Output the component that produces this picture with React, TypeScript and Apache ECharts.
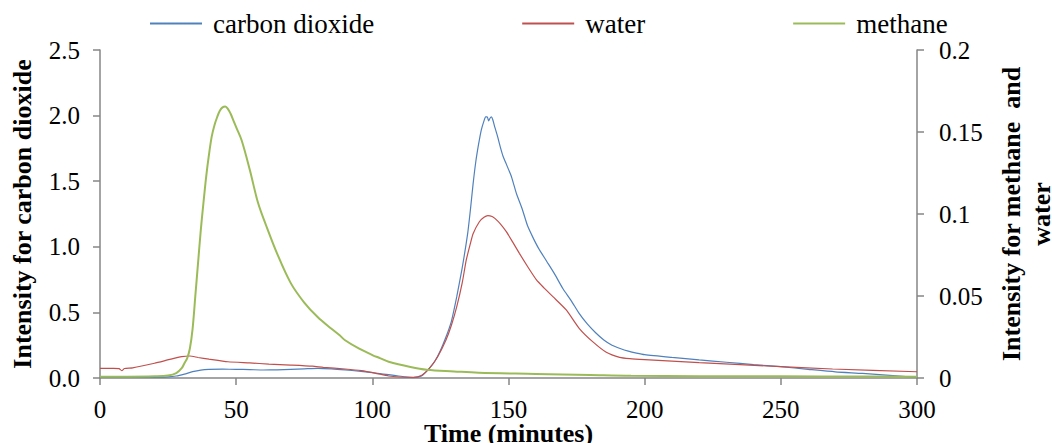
import React, { useEffect, useRef } from "react";
import * as echarts from "echarts";

const xTicks = [0, 50, 100, 150, 200, 250, 300];

const co2Time = [0, 10, 20, 25, 28, 31, 34, 37, 40, 45, 50, 55, 60, 65, 70, 75, 80, 85, 90, 95, 100, 104, 108, 112, 115, 118, 121, 123, 125, 127, 129, 131, 133, 135, 136, 137, 138, 139, 140, 141, 141.6, 142.2, 142.7, 143.2, 143.7, 144.2, 145, 146, 147, 148, 149, 150, 151, 152, 153, 155, 157, 159, 161, 164, 167, 170, 173, 176, 179, 182, 185, 188, 191, 194, 197, 200, 210, 220, 230, 240, 250, 260, 270, 280, 290, 300];
const co2Values = [0.005, 0.004, 0.005, 0.008, 0.015, 0.03, 0.048, 0.06, 0.065, 0.067, 0.066, 0.064, 0.061, 0.062, 0.066, 0.07, 0.074, 0.07, 0.062, 0.052, 0.04, 0.03, 0.02, 0.008, 0.003, 0.015, 0.076, 0.13, 0.21, 0.31, 0.43, 0.62, 0.84, 1.1, 1.28, 1.48, 1.65, 1.78, 1.89, 1.96, 1.99, 1.99, 1.96, 1.98, 1.99, 1.97, 1.91, 1.84, 1.76, 1.69, 1.64, 1.59, 1.54, 1.47, 1.4, 1.29, 1.16, 1.07, 0.99, 0.89, 0.79, 0.68, 0.59, 0.49, 0.41, 0.345, 0.29, 0.25, 0.225, 0.205, 0.19, 0.178, 0.157, 0.138, 0.12, 0.102, 0.086, 0.066, 0.047, 0.035, 0.02, 0.004];

const waterTime = [0, 5, 7, 8, 9, 12, 20, 26, 30, 33, 36, 40, 47, 55, 62, 70, 78, 82, 90, 96, 101, 106, 110, 115, 118, 121, 124, 127, 129, 131, 133, 134.5, 136, 137, 139.3, 141, 142.4, 144, 145, 147, 149.2, 151.5, 154, 157, 160.2, 163, 166.3, 171.2, 176.1, 181, 185.9, 190.8, 194.5, 200, 220, 250, 269, 300];
const waterValues = [0.0059, 0.0059, 0.0057, 0.0045, 0.0058, 0.0062, 0.009, 0.0115, 0.013, 0.0134, 0.0125, 0.0115, 0.0099, 0.0092, 0.0085, 0.0079, 0.0072, 0.0065, 0.0055, 0.0045, 0.003, 0.0012, 0.0006, 0.0004, 0.0015, 0.006, 0.013, 0.023, 0.032, 0.0435, 0.058, 0.072, 0.082, 0.088, 0.0953, 0.098, 0.099, 0.0985, 0.0973, 0.094, 0.0892, 0.083, 0.076, 0.068, 0.06, 0.055, 0.0496, 0.0415, 0.03, 0.022, 0.0157, 0.0126, 0.0118, 0.0112, 0.0094, 0.0069, 0.0055, 0.0038];

const methaneTime = [0, 10, 20, 25, 28, 30, 31, 32, 33, 34, 35, 36, 37, 38, 39, 40, 41, 42, 43, 44, 45, 46, 47, 48, 49, 50, 52, 55, 58, 61, 65, 70, 75, 80, 85, 88, 90, 95, 100, 103, 106, 114, 120, 130, 139, 160, 180, 195, 220, 250, 280, 300];
const methaneValues = [0.0008, 0.0008, 0.001, 0.0015, 0.003, 0.006, 0.009, 0.012, 0.018, 0.03, 0.05, 0.07, 0.09, 0.107, 0.123, 0.136, 0.147, 0.154, 0.159, 0.163, 0.165, 0.1655, 0.164, 0.161, 0.157, 0.153, 0.145, 0.127, 0.107, 0.093, 0.076, 0.058, 0.046, 0.037, 0.03, 0.026, 0.023, 0.018, 0.014, 0.012, 0.0099, 0.0067, 0.005, 0.004, 0.0032, 0.0025, 0.0018, 0.0013, 0.0011, 0.001, 0.0009, 0.0008];

const zip = (t: number[], v: number[]) => t.map((x, i) => [x, v[i]]);

const FONT = "Liberation Serif";
const AXIS_COLOR = "#868686";

export default function App() {
  const ref = useRef<HTMLDivElement>(null);
  useEffect(() => {
    document.body.style.margin = "0";
    const chart = echarts.init(ref.current!, null, { renderer: "svg" });
    const axisCommon = {
      axisLine: { show: true, lineStyle: { color: AXIS_COLOR, width: 1.5 } },
      axisTick: { show: true, length: 7, lineStyle: { color: AXIS_COLOR, width: 1.5 } },
      splitLine: { show: false },
      nameMoveOverlap: false,
    };
    chart.setOption({
      animation: false,
      backgroundColor: "#ffffff",
      textStyle: { fontFamily: FONT },
      legend: {
        top: 5,
        left: 145,
        itemGap: 148,
        itemWidth: 52,
        itemHeight: 2,
        icon: "rect",
        textStyle: { fontFamily: FONT, fontSize: 27, color: "#000", padding: [0, 0, 0, 6] },
        data: ["carbon dioxide", "water", "methane"],
      },
      grid: { left: 100, right: 135, top: 50, bottom: 65, containLabel: false, outerBoundsMode: "none" },
      xAxis: {
        type: "value",
        min: 0,
        max: 300,
        interval: 50,
        ...axisCommon,
        axisLine: { show: true, onZero: false, lineStyle: { color: AXIS_COLOR, width: 1.5 } },
        axisLabel: { fontFamily: FONT, fontSize: 25, color: "#000", margin: 19 },
        name: "Time (minutes)",
        nameLocation: "middle",
        nameGap: 42,
        nameTextStyle: { fontFamily: FONT, fontSize: 26, fontWeight: "bold", color: "#000" },
      },
      yAxis: [
        {
          type: "value",
          min: 0,
          max: 2.5,
          interval: 0.5,
          position: "left",
          ...axisCommon,
          axisLabel: {
            fontFamily: FONT,
            fontSize: 25,
            color: "#000",
            margin: 20,
            formatter: (v: number) => v.toFixed(1),
          },
          name: "Intensity for carbon dioxide",
          nameLocation: "middle",
          nameGap: 65,
          nameTextStyle: { fontFamily: FONT, fontSize: 26, fontWeight: "bold", color: "#000" },
        },
        {
          type: "value",
          min: 0,
          max: 0.2,
          interval: 0.05,
          position: "right",
          ...axisCommon,
          axisLabel: { fontFamily: FONT, fontSize: 25, color: "#000", margin: 22 },
          name: "Intensity for methane  and\nwater",
          nameLocation: "middle",
          nameGap: 79,
          nameTextStyle: {
            fontFamily: FONT,
            fontSize: 26,
            fontWeight: "bold",
            color: "#000",
            lineHeight: 30,
            align: "center",
          },
        },
      ],
      series: [
        {
          name: "carbon dioxide",
          type: "line",
          yAxisIndex: 0,
          showSymbol: false,
          smooth: 0.2,
          data: zip(co2Time, co2Values),
          lineStyle: { color: "#4F81BD", width: 1.2 },
          itemStyle: { color: "#4F81BD" },
        },
        {
          name: "water",
          type: "line",
          yAxisIndex: 1,
          showSymbol: false,
          smooth: 0.2,
          data: zip(waterTime, waterValues),
          lineStyle: { color: "#C0504D", width: 1.2 },
          itemStyle: { color: "#C0504D" },
        },
        {
          name: "methane",
          type: "line",
          yAxisIndex: 1,
          showSymbol: false,
          smooth: 0.35,
          data: zip(methaneTime, methaneValues),
          lineStyle: { color: "#9BBB59", width: 2 },
          itemStyle: { color: "#9BBB59" },
        },
      ],
    });
    return () => chart.dispose();
  }, []);
  return <div ref={ref} style={{ width: 1052, height: 443 }} />;
}
